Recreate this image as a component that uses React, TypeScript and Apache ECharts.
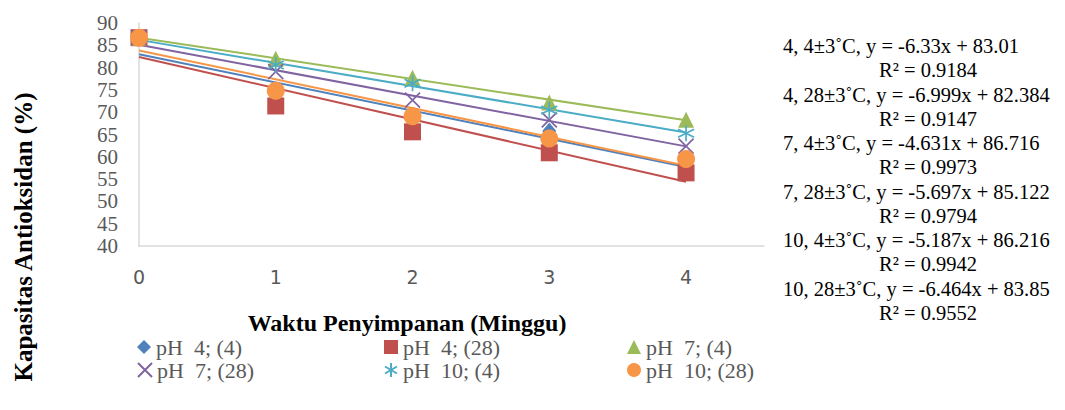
import React, { useEffect, useRef } from "react";
import * as echarts from "echarts";

const weeks = [0, 1, 2, 3, 4];
const seriesNames = ["pH  4; (4)", "pH  4; (28)", "pH  7; (4)", "pH  7; (28)", "pH  10; (4)", "pH  10; (28)"];
const ph4_4 = [86.7, 74.6, 65.6, 65.8, 59.5];
const ph4_28 = [86.7, 71.4, 65.6, 60.9, 56.4];
const ph7_4 = [86.7, 82.0, 77.7, 72.2, 68.3];
const ph7_28 = [86.7, 79.1, 72.7, 68.3, 62.4];
const ph10_4 = [86.7, 80.6, 76.5, 70.5, 65.3];
const ph10_28 = [86.7, 74.8, 69.1, 64.1, 59.5];
const seriesValues = [ph4_4, ph4_28, ph7_4, ph7_28, ph10_4, ph10_28];

const eqLabels = ["4, 4±3˚C", "4, 28±3˚C", "7, 4±3˚C", "7, 28±3˚C", "10, 4±3˚C", "10, 28±3˚C"];
const slopes = [-6.33, -6.999, -4.631, -5.697, -5.187, -6.464];
const intercepts = [83.01, 82.384, 86.716, 85.122, 86.216, 83.85];
const r2Values = ["0.9184", "0.9147", "0.9973", "0.9794", "0.9942", "0.9552"];

const yMin = 40;
const yMax = 90;
const yInterval = 5;

const colors = ["#4F81BD", "#C0504D", "#9BBB59", "#8064A2", "#4BACC6", "#F79646"];
const symbols = [
  "diamond",
  "rect",
  "triangle",
  "path://M0,0L10,10M10,0L0,10",
  "path://M5,0L5,10M0.7,2.5L9.3,7.5M0.7,7.5L9.3,2.5",
  "circle",
];
const symbolSizes = [[14, 17], 17, 16, 15, 16, 18];
const strokeOnly = [false, false, false, true, true, false];
const legendPos = [
  [137, 336], [384, 336], [627, 336],
  [137, 359], [384, 359], [627, 359],
];

export default function App() {
  const ref = useRef<HTMLDivElement>(null);
  useEffect(() => {
    if (!ref.current) return;
    const chart = echarts.init(ref.current, undefined, { renderer: "svg" });
    const scatterSeries = seriesNames.map((name, i) => ({
      name,
      type: "scatter",
      symbol: symbols[i],
      symbolSize: symbolSizes[i],
      z: 5,
      itemStyle: strokeOnly[i]
        ? { color: "rgba(0,0,0,0)", borderColor: colors[i], borderWidth: 1.7, opacity: 1 }
        : { color: colors[i], opacity: 1 },
      data: weeks.map((w, j) => [w, seriesValues[i][j]]),
    }));
    const trendSeries = seriesNames.map((name, i) => ({
      name: name + " trend",
      type: "line",
      silent: true,
      showSymbol: false,
      symbol: "none",
      z: 3,
      lineStyle: { color: colors[i], width: 2 },
      data: [weeks[0], weeks[weeks.length - 1]].map((w) => [w, intercepts[i] + slopes[i] * w]),
    }));
    const legends = seriesNames.map((name, i) => ({
      data: [name],
      left: legendPos[i][0],
      top: legendPos[i][1],
      itemWidth: 14,
      itemHeight: 14,
      itemGap: 0,
      padding: 0,
      textStyle: { fontFamily: "Liberation Serif", fontSize: 22, color: "#595959" },
    }));
    const graphics: any[] = [];
    eqLabels.forEach((lab, i) => {
      graphics.push({
        type: "text",
        x: 783,
        y: 46 + 2 * i * 24.27,
        style: {
          text: `${lab}, y = ${slopes[i]}x + ${intercepts[i]}`,
          fontFamily: "Liberation Serif",
          fontSize: 20.5,
          fill: "#000",
          align: "left",
          verticalAlign: "middle",
        },
      });
      graphics.push({
        type: "text",
        x: 879,
        y: 46 + (2 * i + 1) * 24.27,
        style: {
          text: `R² = ${r2Values[i]}`,
          fontFamily: "Liberation Serif",
          fontSize: 20.5,
          fill: "#000",
          align: "left",
          verticalAlign: "middle",
        },
      });
    });
    graphics.push({
      type: "text",
      x: 407,
      y: 323,
      style: {
        text: "Waktu Penyimpanan (Minggu)",
        fontFamily: "Liberation Serif",
        fontSize: 24,
        fontWeight: "bold",
        fill: "#000",
        align: "center",
        verticalAlign: "middle",
      },
    });
    graphics.push({
      type: "text",
      x: 23,
      y: 237,
      rotation: Math.PI / 2,
      style: {
        text: "Kapasitas Antioksidan (%)",
        fontFamily: "Liberation Serif",
        fontSize: 25,
        fontWeight: "bold",
        fill: "#000",
        align: "center",
        verticalAlign: "middle",
      },
    });
    chart.setOption({
      animation: false,
      grid: { left: 139, top: 23, width: 625, height: 223, containLabel: false },
      xAxis: {
        type: "value",
        min: 0,
        max: 4.57,
        interval: 1,
        axisLine: { show: true, lineStyle: { color: "#D9D9D9", width: 1.5 } },
        axisTick: { show: false },
        splitLine: { show: false },
        axisLabel: {
          showMaxLabel: false,
          margin: 21,
          fontFamily: "DejaVu Sans",
          fontSize: 19,
          color: "#595959",
        },
      },
      yAxis: {
        type: "value",
        min: yMin,
        max: yMax,
        interval: yInterval,
        axisLine: { show: true, lineStyle: { color: "#D9D9D9", width: 1.5 } },
        axisTick: { show: false },
        splitLine: { show: false },
        axisLabel: {
          margin: 21,
          fontFamily: "Liberation Serif",
          fontSize: 21,
          lineHeight: 20,
          color: "#595959",
        },
      },
      legend: legends,
      graphic: graphics,
      series: [...trendSeries, ...scatterSeries],
    });
    return () => chart.dispose();
  }, []);
  return <div ref={ref} style={{ position: "fixed", left: 0, top: 0, width: 1065, height: 410, background: "#fff" }} />;
}
